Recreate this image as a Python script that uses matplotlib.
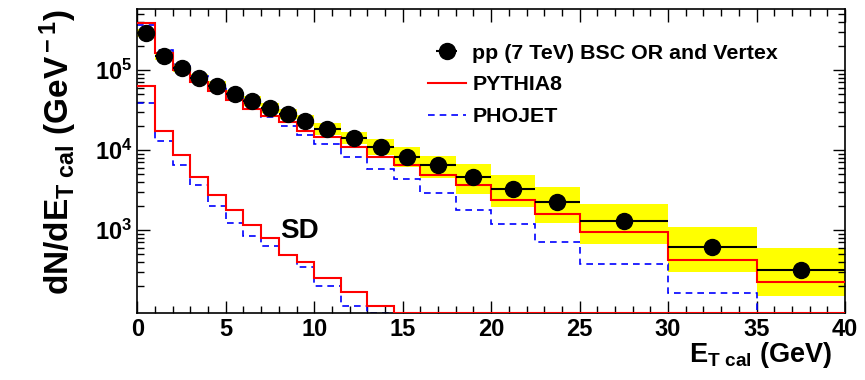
""" dN/dE_T cal spectrum: data vs PYTHIA8 / PHOJET """

import numpy as np
import matplotlib
matplotlib.use('Agg')
import matplotlib.pyplot as plt
from matplotlib.ticker import MultipleLocator, LogLocator, FixedLocator, FuncFormatter, NullFormatter

plt.rcParams['font.family'] = ['Liberation Sans', 'DejaVu Sans']
plt.rcParams['font.weight'] = 'bold'
plt.rcParams['mathtext.fontset'] = 'custom'
plt.rcParams['mathtext.rm'] = 'Liberation Sans:bold'
plt.rcParams['mathtext.bf'] = 'Liberation Sans:bold'
plt.rcParams['mathtext.it'] = 'Liberation Sans:bold'

# bin edges in E_T cal (GeV)
edges = [0, 1, 2, 3, 4, 5, 6, 7, 8, 9, 10, 11.5, 13, 14.5, 16, 18, 20, 22.5, 25, 30, 35, 40]

# data: pp (7 TeV) BSC OR and Vertex
data = [2.88e5, 1.50e5, 1.05e5, 8.0e4, 6.4e4, 5.0e4, 4.1e4, 3.35e4, 2.82e4, 2.3e4,
        1.83e4, 1.4e4, 1.09e4, 8.25e3, 6.5e3, 4.64e3, 3.23e3, 2.22e3, 1.3e3, 617, 311]
band_lo = [2.57e5, 1.34e5, 0.94e5, 7.1e4, 5.6e4, 4.4e4, 3.55e4, 2.9e4, 2.44e4, 1.97e4,
           1.54e4, 1.18e4, 8.65e3, 6.2e3, 4.5e3, 2.8e3, 1.95e3, 1.23e3, 668, 296, 147]
band_hi = [3.23e5, 1.68e5, 1.18e5, 9.0e4, 7.3e4, 5.7e4, 4.75e4, 3.87e4, 3.26e4, 2.7e4,
           2.18e4, 1.67e4, 1.37e4, 1.1e4, 8.4e3, 6.6e3, 4.87e3, 3.4e3, 2.09e3, 1.1e3, 602]

# MC, all events
pythia = [3.9e5, 1.62e5, 1.0e5, 7.1e4, 5.5e4, 4.2e4, 3.25e4, 2.66e4, 2.26e4, 1.74e4,
          1.47e4, 1.1e4, 8.1e3, 6.4e3, 4.8e3, 3.6e3, 2.4e3, 1.6e3, 953, 422, 222]
phojet = [3.65e5, 1.78e5, 1.2e5, 8.4e4, 6.1e4, 4.5e4, 3.3e4, 2.6e4, 2.0e4, 1.54e4,
          1.19e4, 8.1e3, 5.8e3, 4.3e3, 2.9e3, 1.8e3, 1.2e3, 705, 376, 162, 0]

# MC, single diffractive part
pythia_sd = [6.4e4, 1.74e4, 8.7e3, 4.64e3, 2.74e3, 1.8e3, 1.15e3, 787, 480, 400,
             249, 165, 112, 0, 0, 0, 0, 0, 0, 0, 0]
phojet_sd = [3.9e4, 1.3e4, 6.5e3, 3.65e3, 2.0e3, 1.23e3, 841, 631, 480, 340,
             200, 113, 0, 0, 0, 0, 0, 0, 0, 0, 0]

ymin, ymax = 92, 5.75e5

edges_a = np.asarray(edges)
centers = 0.5 * (edges_a[1:] + edges_a[:-1])
widths = edges_a[1:] - edges_a[:-1]

fig = plt.figure(figsize=(8.65, 3.8), dpi=100)
ax = fig.add_axes([0.1587, 0.177, 0.8182, 0.7985])

# systematic band
ax.bar(centers, np.asarray(band_hi) - np.asarray(band_lo), bottom=band_lo,
       width=widths, color='#ffff00', linewidth=0, zorder=1)


def hist(vals, **kw):
    # empty bins sit on the bottom frame, as in ROOT
    ax.stairs(np.maximum(vals, ymin), edges, baseline=None, **kw)


hist(pythia, color='red', lw=1.5, zorder=3, label='PYTHIA8')
hist(phojet, color='blue', lw=1.2, ls=(0, (4, 3)), zorder=2, label='PHOJET')
hist(pythia_sd, color='red', lw=1.5, zorder=3)
hist(phojet_sd, color='blue', lw=1.2, ls=(0, (4, 3)), zorder=2)

ax.errorbar(centers, data, xerr=widths / 2, fmt='o', color='black', ms=11.5,
            elinewidth=1.5, capsize=0, zorder=4,
            label='pp (7 TeV) BSC OR and Vertex')

ax.text(8.05, 960, 'SD', fontsize=20, fontweight='bold', va='center')

ax.set_yscale('log')
ax.set_xlim(0, 40)
ax.set_ylim(ymin, ymax)

ax.xaxis.set_major_locator(MultipleLocator(5))
ax.xaxis.set_minor_locator(MultipleLocator(1))
ax.yaxis.set_major_locator(FixedLocator([1e3, 1e4, 1e5]))
ax.yaxis.set_minor_locator(LogLocator(base=10, subs=np.arange(2, 10)))
ax.yaxis.set_major_formatter(FuncFormatter(lambda v, p: r'$10^{%d}$' % round(np.log10(v))))
ax.yaxis.set_minor_formatter(NullFormatter())
ax.tick_params(which='both', direction='in', top=True, right=True, labelsize=17, width=1.0)
ax.tick_params(which='major', length=9)
ax.tick_params(which='minor', length=5)
for s in ax.spines.values():
    s.set_linewidth(1.2)

ax.set_xlabel(r'E$_{\rm T\ cal}$ (GeV)', fontsize=19.5, fontweight='bold', ha='right')
ax.xaxis.set_label_coords(0.982, -0.09)
ax.set_ylabel(r'dN/dE$_{\rm T\ cal}$ (GeV$^{\rm -1}$)', fontsize=24, fontweight='bold', ha='right')
ax.yaxis.set_label_coords(-0.083, 1.0)

handles, labels = ax.get_legend_handles_labels()
order = [2, 0, 1]
ax.legend([handles[i] for i in order], [labels[i] for i in order],
          loc='upper left', bbox_to_anchor=(0.398, 0.915), frameon=False,
          fontsize=15.4, handlelength=1.8, handletextpad=0.3, labelspacing=0.6,
          borderaxespad=0)

fig.savefig('out.png', dpi=100)
